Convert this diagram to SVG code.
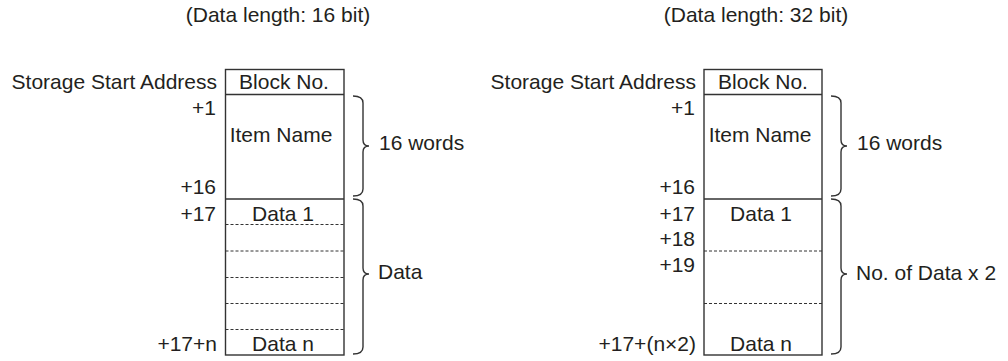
<svg xmlns="http://www.w3.org/2000/svg" width="1008" height="361" viewBox="0 0 1008 361">
<style>
text{font-family:"Liberation Sans",Arial,sans-serif;font-size:21px;fill:#231f20}
.e{text-anchor:end}
.m{text-anchor:middle}
.box{fill:#fff;stroke:#333;stroke-width:1.4}
.sep{stroke:#333;stroke-width:1.6;fill:none}
.dash{stroke:#333;stroke-width:1;stroke-dasharray:3 2;fill:none}
.brace{stroke:#333;stroke-width:1.4;fill:none}
</style>
<rect width="1008" height="361" fill="#fff"/>

<g id="title-16">
<text class="m" x="278" y="22">(Data length: 16 bit)</text>
</g>
<g id="title-32">
<text class="m" x="756" y="22">(Data length: 32 bit)</text>
</g>

<g id="block-16">
<rect class="box" x="225.5" y="69.5" width="118.5" height="285.5"/>
<line class="sep" x1="225.5" y1="94.5" x2="344" y2="94.5"/>
<line class="sep" x1="225.5" y1="199" x2="344" y2="199"/>
<line class="dash" x1="225.5" y1="224.5" x2="344" y2="224.5"/>
<line class="dash" x1="225.5" y1="251" x2="344" y2="251"/>
<line class="dash" x1="225.5" y1="277.5" x2="344" y2="277.5"/>
<line class="dash" x1="225.5" y1="303.5" x2="344" y2="303.5"/>
<line class="dash" x1="225.5" y1="329.5" x2="344" y2="329.5"/>
<text class="m" x="284" y="89">Block No.</text>
<text class="m" x="281" y="142">Item Name</text>
<text class="m" x="283" y="221">Data 1</text>
<text class="m" x="283" y="351">Data n</text>
</g>
<g id="addr-16">
<text class="e" x="217" y="89">Storage Start Address</text>
<text class="e" x="216" y="115">+1</text>
<text class="e" x="216" y="194">+16</text>
<text class="e" x="216" y="221">+17</text>
<text class="e" x="217" y="351">+17+n</text>
</g>

<g id="block-32">
<rect class="box" x="704" y="69.5" width="118" height="285.5"/>
<line class="sep" x1="704" y1="94.5" x2="822" y2="94.5"/>
<line class="sep" x1="704" y1="199" x2="822" y2="199"/>
<line class="dash" x1="704" y1="251" x2="822" y2="251"/>
<line class="dash" x1="704" y1="303.5" x2="822" y2="303.5"/>
<text class="m" x="763" y="89">Block No.</text>
<text class="m" x="760" y="142">Item Name</text>
<text class="m" x="761" y="221">Data 1</text>
<text class="m" x="761" y="351">Data n</text>
</g>
<g id="addr-32">
<text class="e" x="696" y="89">Storage Start Address</text>
<text class="e" x="695" y="115">+1</text>
<text class="e" x="695" y="194">+16</text>
<text class="e" x="695" y="221">+17</text>
<text class="e" x="695" y="246">+18</text>
<text class="e" x="695" y="272">+19</text>
<text class="e" x="696" y="351">+17+(n×2)</text>
</g>

<g id="connectors">
<path class="brace" d="M353,96 Q363,96 363,103 L363,140 Q363,146 369,146 Q363,146 363,152 L363,189 Q363,196 353,196"/>
<path class="brace" d="M353,199 Q363,199 363,206 L363,268 Q363,274 369,274 Q363,274 363,280 L363,347 Q363,354 353,354"/>
<path class="brace" d="M831,96 Q841,96 841,103 L841,140 Q841,146 847,146 Q841,146 841,152 L841,189 Q841,196 831,196"/>
<path class="brace" d="M831,199 Q841,199 841,206 L841,268 Q841,274 847,274 Q841,274 841,280 L841,347 Q841,354 831,354"/>
</g>

<g id="brace-labels">
<text x="379" y="150">16 words</text>
<text x="378" y="279">Data</text>
<text x="857" y="150">16 words</text>
<text x="856" y="280">No. of Data x 2</text>
</g>
</svg>
